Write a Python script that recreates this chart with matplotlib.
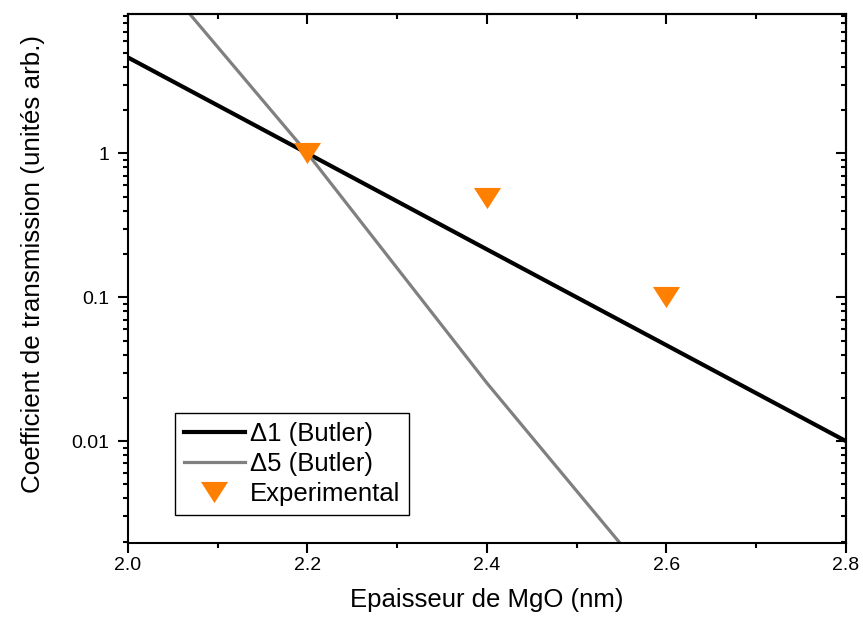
import numpy as np
import matplotlib.pyplot as plt
from matplotlib.ticker import FixedLocator, LogLocator, NullFormatter, MultipleLocator

plt.rcParams['font.family'] = ['Liberation Sans', 'DejaVu Sans']

# MgO thickness (nm)
thick = [2.0, 2.2, 2.4, 2.6, 2.8]
delta1 = [4.64, 1.0, 0.215, 0.0464, 0.01]
delta5 = [30.0, 1.0, 0.0253, 0.0008, 0.00003]

exp_x = [2.2, 2.4, 2.6]
exp_y = [1.0, 0.49, 0.1]

# flattened down-pointing triangle (Origin style)
tri = [(-1, 0.78), (1, 0.78), (0, -0.78), (-1, 0.78)]

fig = plt.figure(figsize=(8.63, 6.23), dpi=100)
ax = fig.add_axes([0.1483, 0.1284, 0.8320, 0.8491])

ax.plot(thick, delta1, color='black', lw=3.0, label='Δ1 (Butler)', zorder=2)
ax.plot(thick, delta5, color='#808080', lw=2.3, label='Δ5 (Butler)', zorder=2)
ax.plot(exp_x, exp_y, ls='none', marker=tri, ms=19.5, color='#ff7f00',
        mec='none', label='Experimental', zorder=3)

ax.set_yscale('log')
ax.set_xlim(2.0, 2.8)
ax.set_ylim(0.00196, 9.3)

ax.xaxis.set_major_locator(MultipleLocator(0.2))
ax.xaxis.set_minor_locator(MultipleLocator(0.1))
ax.xaxis.set_major_formatter(plt.FuncFormatter(lambda v, p: f'{v:.1f}'))
ax.yaxis.set_major_locator(FixedLocator([0.01, 0.1, 1]))
ax.yaxis.set_major_formatter(plt.FuncFormatter(lambda v, p: f'{v:g}'))
ax.yaxis.set_minor_locator(LogLocator(base=10, subs=np.arange(2, 10)))
ax.yaxis.set_minor_formatter(NullFormatter())

for s in ax.spines.values():
    s.set_linewidth(1.5)

ax.tick_params(which='both', direction='out', width=1.5, labelsize=14)
ax.tick_params(which='major', length=7.5)
ax.tick_params(which='minor', length=3.6)
ax.tick_params(axis='y', which='major', pad=6)
ax.tick_params(axis='x', which='major', pad=2.5)

# mirrored inward ticks on top / right
axt = ax.secondary_xaxis('top')
axt.xaxis.set_major_locator(MultipleLocator(0.2))
axt.xaxis.set_minor_locator(MultipleLocator(0.1))
axt.tick_params(which='both', direction='in', width=1.5, labeltop=False)
axt.tick_params(which='major', length=7.5)
axt.tick_params(which='minor', length=3.6)
axr = ax.secondary_yaxis('right')
axr.yaxis.set_major_locator(FixedLocator([0.01, 0.1, 1]))
axr.yaxis.set_minor_locator(LogLocator(base=10, subs=np.arange(2, 10)))
axr.yaxis.set_minor_formatter(NullFormatter())
axr.tick_params(which='both', direction='in', width=1.5, labelright=False)
axr.tick_params(which='major', length=7.5)
axr.tick_params(which='minor', length=3.6)
for sec in (axt, axr):
    for s in sec.spines.values():
        s.set_linewidth(1.5)

ax.set_xlabel('Epaisseur de MgO (nm)', fontsize=18.5)
ax.xaxis.set_label_coords(0.5, -0.085)
ax.set_ylabel('Coefficient de transmission (unités arb.)', fontsize=18.7)
ax.yaxis.set_label_coords(-0.116, 0.527)

leg = ax.legend(loc='lower left', bbox_to_anchor=(0.0655, 0.053), fontsize=18.5,
                frameon=True, fancybox=False, edgecolor='black', framealpha=1,
                handlelength=2.37, handletextpad=0.2, borderpad=0.35,
                labelspacing=0.23, borderaxespad=0)
leg.get_frame().set_linewidth(1.0)

fig.savefig('out.png', dpi=100)
